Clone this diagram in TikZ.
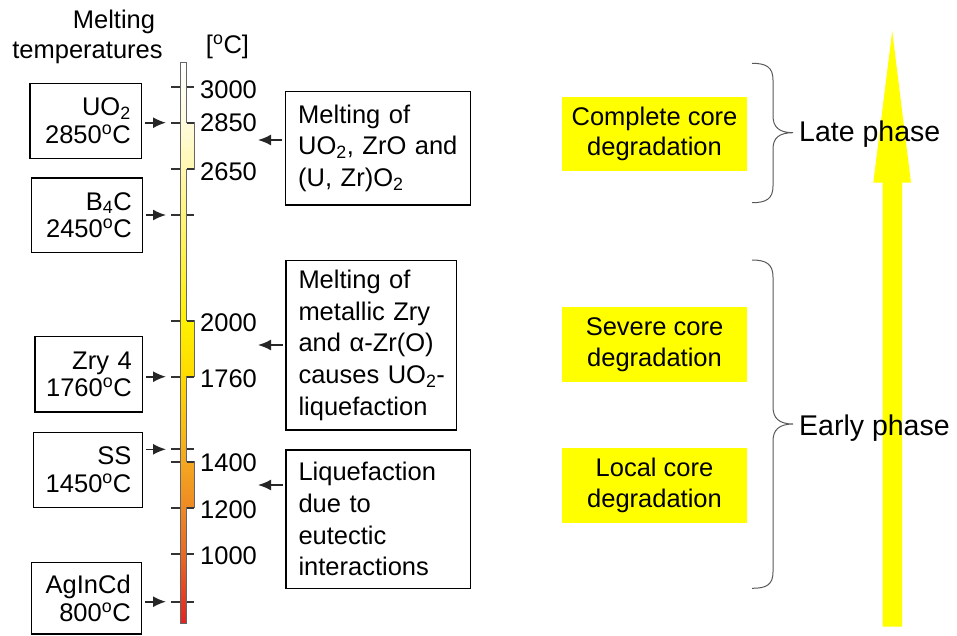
\documentclass[tikz,border=0pt]{standalone}
\usepackage{fontspec}
\setmainfont{Liberation Sans}
\usetikzlibrary{arrows.meta}
\definecolor{c1}{HTML}{FFFBDC}
\definecolor{c2}{HTML}{FFF8B0}
\definecolor{c3}{HTML}{FFF47A}
\definecolor{c4}{HTML}{FFF000}
\definecolor{c5}{HTML}{FFDA00}
\definecolor{c6}{HTML}{F4A820}
\definecolor{c7}{HTML}{EE8A24}
\definecolor{c8}{HTML}{E86A24}
\definecolor{c9}{HTML}{E02424}
\definecolor{ylw}{HTML}{FFFF00}
\begin{document}
\begin{tikzpicture}[x=1pt,y=-1pt,
  fs/.style={font=\fontsize{25.5}{30}\selectfont, inner sep=0pt},
  lbox/.style={draw, line width=1.3pt, align=right, inner xsep=11pt, inner ysep=0pt, font=\fontsize{25.5}{27.6}\selectfont},
  rbox/.style={draw, line width=1.3pt, align=left, inner xsep=10pt, inner ysep=0pt, font=\fontsize{25.5}{31.8}\selectfont},
  ybox/.style={fill=ylw, align=center, inner sep=0pt, minimum width=185.6pt, font=\fontsize{25.5}{30.6}\selectfont},
  num/.style={anchor=base west, inner sep=0pt, font=\fontsize{25.5}{30}\selectfont},
  arr/.style={-{Latex[length=13pt,width=11pt]}, line width=1.6pt, black!85},
  tickmark/.style={line width=1.7pt, black!80},
  brace/.style={line width=1pt, black!65},
  phase/.style={anchor=base west, inner sep=0pt, font=\fontsize{28.5}{34}\selectfont}
]
\useasboundingbox (0,0) rectangle (957,635);

% big arrow
\fill[ylw] (882.7,626.7) -- (882.7,182.7) -- (873.3,182.7) -- (892.2,31) -- (911,182.7) -- (902,182.7) -- (902,626.7) -- cycle;

% titles
\node[fs, anchor=base] (t1) at (114,28.3) {Melting};
\node[fs, anchor=base] (t2) at (87.5,58.3) {temperatures};
\node[fs, anchor=base] (unit) at (227.5,53.3) {[\textsuperscript{o}C]};

% thermometer bar
\begin{scope}
\clip (180,62.7) -- (186.5,62.7) -- (186.5,122.7) -- (194,122.7) -- (194,169.3) -- (186.5,169.3) -- (186.5,320.7) -- (194,320.7) -- (194,376.7) -- (186.5,376.7) -- (186.5,461.7) -- (194,461.7) -- (194,507.7) -- (186.5,507.7) -- (186.5,623.3) -- (180,623.3) -- cycle;
\shade[top color=white, bottom color=c1] (176,62.5) rectangle (198,122.9);
\shade[top color=c1, bottom color=c2] (176,122.7) rectangle (198,169.5);
\shade[top color=c2, bottom color=c3] (176,169.3) rectangle (198,215.2);
\shade[top color=c3, bottom color=c4] (176,215) rectangle (198,320.9);
\shade[top color=c4, bottom color=c5] (176,320.7) rectangle (198,376.9);
\shade[top color=c5, bottom color=c6] (176,376.7) rectangle (198,461.9);
\shade[top color=c6, bottom color=c7] (176,461.7) rectangle (198,507.9);
\shade[top color=c7, bottom color=c8] (176,507.7) rectangle (198,554.2);
\shade[top color=c8, bottom color=c9] (176,554) rectangle (198,623.5);
\end{scope}
\draw[line width=0.8pt, black!60] (180,62.7) -- (186.5,62.7) -- (186.5,122.7) -- (194,122.7) -- (194,169.3) -- (186.5,169.3) -- (186.5,320.7) -- (194,320.7) -- (194,376.7) -- (186.5,376.7) -- (186.5,461.7) -- (194,461.7) -- (194,507.7) -- (186.5,507.7) -- (186.5,623.3) -- (180,623.3) -- cycle;

% ticks
\foreach \ty in {87.3,122.7,169.3,215,320.7,376.7,449.3,461.7,507.7,554,601.7}{
  \draw[tickmark] (171,\ty) -- (180,\ty);
  \draw[tickmark] (186.5,\ty) -- (194,\ty);
}

% scale numbers
\node[num] (n3000) at (200,98.3) {3000};
\node[num] (n2850) at (200,131.7) {2850};
\node[num] (n2650) at (200,180) {2650};
\node[num] (n2000) at (200,331.7) {2000};
\node[num] (n1760) at (200,387.7) {1760};
\node[num] (n1400) at (200,471.7) {1400};
\node[num] (n1200) at (200,518.3) {1200};
\node[num] (n1000) at (200,564) {1000};

% left boxes
\node[lbox, minimum width=111.7pt, minimum height=75pt, text width=89.7pt] (uo) at (85.85,120.8) {UO\textsubscript{2}\\2850\textsuperscript{o}C};
\node[lbox, minimum width=111pt, minimum height=74.3pt, text width=89pt] (bc) at (87.2,215.15) {B\textsubscript{4}C\\2450\textsuperscript{o}C};
\node[lbox, minimum width=107.7pt, minimum height=75.3pt, text width=85.7pt] (zr) at (88.85,374.35) {Zry 4\\1760\textsuperscript{o}C};
\node[lbox, minimum width=109pt, minimum height=74.6pt, text width=87pt] (ss) at (87.8,470) {SS\\1450\textsuperscript{o}C};
\node[lbox, minimum width=110pt, minimum height=71.3pt, text width=88pt] (ag) at (86.7,598.35) {AgInCd\\800\textsuperscript{o}C};

\coordinate (tUO) at (166,122.7);
\coordinate (tB) at (166,215);
\coordinate (tZ) at (166,376.7);
\coordinate (tS) at (166,449.3);
\coordinate (tA) at (166,601.7);
\draw[arr, shorten <=3pt] (uo.east |- tUO) -- (tUO);
\draw[arr, shorten <=3pt] (bc.east |- tB) -- (tB);
\draw[arr, shorten <=3pt] (zr.east |- tZ) -- (tZ);
\draw[arr, shorten <=3pt] (ss.east |- tS) -- (tS);
\draw[arr, shorten <=3pt] (ag.east |- tA) -- (tA);

% right boxes
\node[rbox, minimum width=185pt, minimum height=113.3pt, text width=165pt] (m1) at (378.2,148.35) {\hspace*{2.5pt}Melting of\\\hspace*{2.5pt}UO\textsubscript{2}, ZrO and\\\hspace*{2.5pt}(U, Zr)O\textsubscript{2}};
\node[rbox, minimum width=170.7pt, minimum height=169.3pt, text width=150.7pt] (m2) at (371.35,345.35) {\hspace*{2.5pt}Melting of\\\hspace*{2.5pt}metallic Zry\\\hspace*{2.5pt}and α-Zr(O)\\\hspace*{2.5pt}causes UO\textsubscript{2}-\\\hspace*{2.5pt}liquefaction};
\node[rbox, minimum width=184.7pt, minimum height=138.3pt, text width=164.7pt] (m3) at (378.35,519.15) {\hspace*{2.5pt}Liquefaction\\\hspace*{2.5pt}due to\\\hspace*{2.5pt}eutectic\\\hspace*{2.5pt}interactions};

\coordinate (rA) at (258,140);
\coordinate (rB) at (258,345);
\coordinate (rC) at (258,485);
\draw[arr, shorten <=2.7pt] (m1.west |- rA) -- (rA);
\draw[arr, shorten <=2.7pt] (m2.west |- rB) -- (rB);
\draw[arr, shorten <=2.7pt] (m3.west |- rC) -- (rC);

% yellow boxes
\node[ybox, minimum height=73.4pt] (y1) at (654.5,134) {Complete core\\degradation};
\node[ybox, minimum height=74.4pt] (y2) at (654.5,344.5) {Severe core\\degradation};
\node[ybox, minimum height=74.4pt] (y3) at (654.5,485.5) {Local core\\degradation};

% braces
\draw[brace] (752,63.3) .. controls (766,63.3) and (773,67) .. (773,80) -- (773,116) .. controls (773,127) and (779,132.7) .. (793,132.7) .. controls (779,132.7) and (773,138) .. (773,149) -- (773,186) .. controls (773,199) and (766,202.7) .. (752,202.7);
\draw[brace] (752,260) .. controls (766,260) and (773,264) .. (773,277) -- (773,407) .. controls (773,418) and (779,424) .. (793,424) .. controls (779,424) and (773,430) .. (773,441) -- (773,572) .. controls (773,585) and (766,588.3) .. (752,588.3);

\node[phase] (late) at (799,141.7) {Late phase};
\node[phase] (early) at (799,435) {Early phase};
\end{tikzpicture}
\end{document}
